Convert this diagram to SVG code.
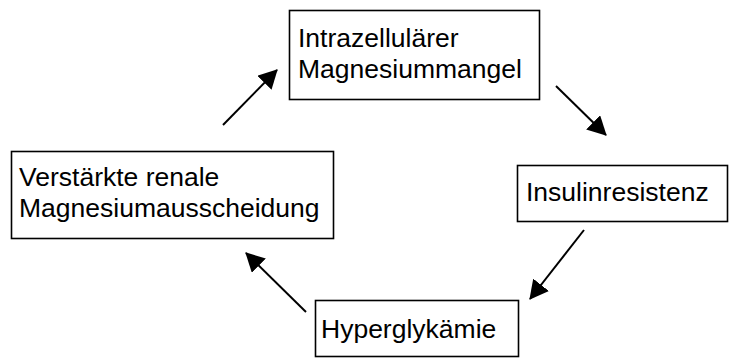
<svg xmlns="http://www.w3.org/2000/svg" width="729" height="360" viewBox="0 0 729 360">
<style>
.box{fill:#fff;stroke:#000;stroke-width:1.6}
.lbl{font-family:"Liberation Sans",Arial,sans-serif;font-size:26.5px;fill:#000}
.con{stroke:#000;stroke-width:2;fill:none}
</style>
<defs>
<marker id="ah" markerUnits="userSpaceOnUse" markerWidth="20" markerHeight="20" refX="18" refY="10" orient="auto">
<path d="M0,0 L19,10 L0,20 Z" fill="#000"/>
</marker>
</defs>
<rect width="729" height="360" fill="#fff"/>
<g id="n1"><rect class="box" x="289.5" y="10.5" width="250" height="89"/><text class="lbl" x="298" y="47">Intrazellulärer</text><text class="lbl" x="298" y="78">Magnesiummangel</text></g>
<g id="n2"><rect class="box" x="517.5" y="165.5" width="210" height="56"/><text class="lbl" x="526" y="201">Insulinresistenz</text></g>
<g id="n3"><rect class="box" x="315.5" y="300.5" width="203" height="56"/><text class="lbl" x="321" y="338">Hyperglykämie</text></g>
<g id="n4"><rect class="box" x="11.5" y="151.5" width="322" height="87"/><text class="lbl" x="19" y="186">Verstärkte renale</text><text class="lbl" x="19" y="217">Magnesiumausscheidung</text></g>
<g id="connectors">
<line class="con" x1="223" y1="125" x2="277" y2="70" marker-end="url(#ah)"/>
<line class="con" x1="556" y1="86" x2="606" y2="135" marker-end="url(#ah)"/>
<line class="con" x1="584" y1="230" x2="530" y2="299" marker-end="url(#ah)"/>
<line class="con" x1="306" y1="312" x2="246" y2="253" marker-end="url(#ah)"/>
</g>
</svg>
